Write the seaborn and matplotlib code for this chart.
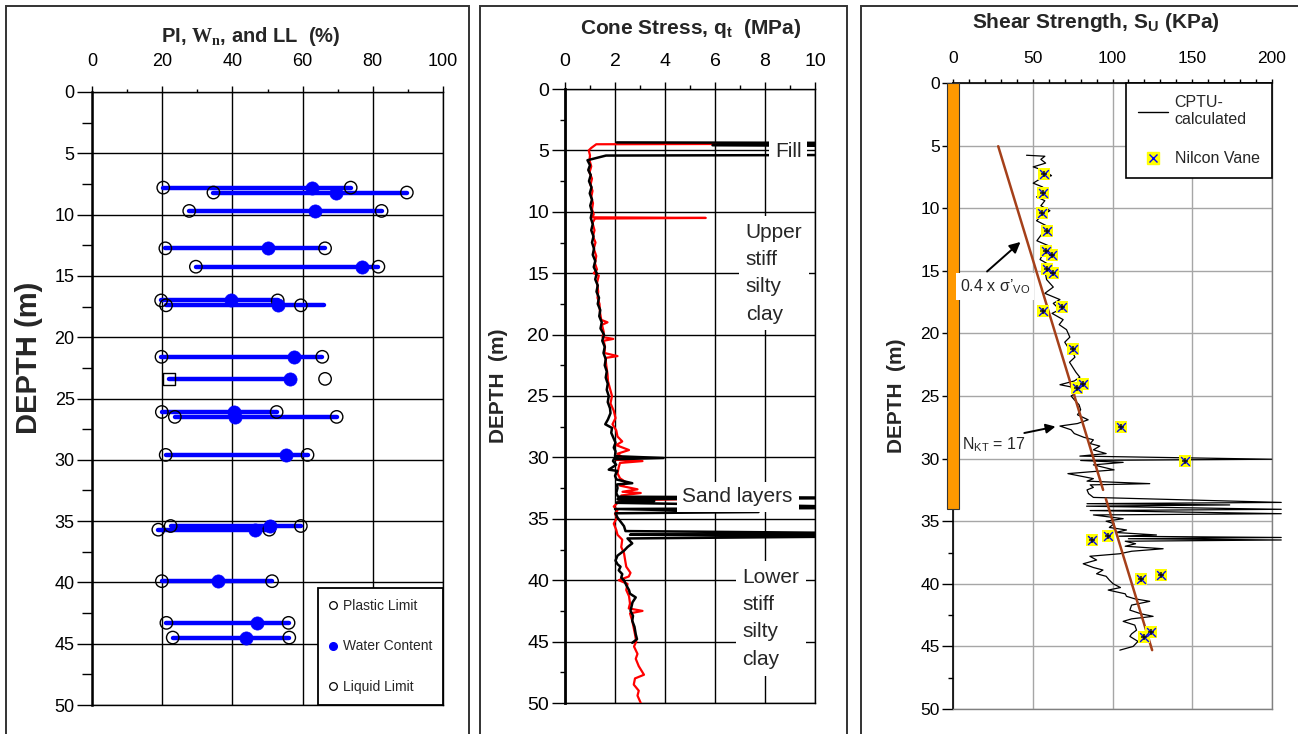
import numpy as np
import pandas as pd
import matplotlib
matplotlib.use("Agg")
import matplotlib.pyplot as plt
import seaborn as sns
from matplotlib.lines import Line2D
from matplotlib.patches import Rectangle
from matplotlib.ticker import MultipleLocator

# ---------------- Panel 1 data: Atterberg limits / water content ----------------
atb_depth = [7.8, 8.2, 9.7, 12.75, 14.25, 17.0, 17.4, 21.6, 23.4, 26.1, 26.5, 29.6,
             35.4, 35.7, 39.9, 43.3, 44.5]
plastic_limit = [20.3, 34.6, 27.7, 20.9, 29.6, 19.7, 21.1, 19.8, np.nan, 19.9, 23.6, 21.0,
                 22.4, 18.9, 19.9, 21.2, 23.0]
water_content = [62.6, 69.4, 63.6, 50.2, 76.8, 39.6, 53.1, 57.6, 56.4, 40.5, 40.7, 55.3,
                 50.7, 46.4, 35.8, 46.9, 43.9]
liquid_limit = [73.7, 89.7, 82.5, 66.4, 81.6, 52.9, 59.5, 65.6, 66.4, 52.6, 69.7, 61.4,
                59.5, 50.5, 51.3, 56.0, 56.2]
range_lo = [20.3, 34.6, 27.7, 20.9, 29.6, 19.7, 21.1, 19.8, 22.0, 19.9, 23.6, 21.0,
            22.4, 18.9, 19.9, 21.2, 23.0]
range_hi = [73.7, 89.7, 82.5, 66.4, 81.6, 52.9, 66.2, 65.6, 56.4, 52.6, 69.7, 61.4,
            59.5, 50.5, 51.3, 56.0, 56.2]
square_pl = [22.0]
square_depth = [23.4]

# ---------------- Panel 2 data: cone stress qt (MPa) ----------------
red_qt = [12.0, 1.25, 1.05, 0.95, 1.0, 0.98, 1.05, 0.98, 1.08, 1.02, 1.1, 1.05, 1.12, 1.08, 1.15,
          1.1, 5.63, 1.2, 1.1, 1.18, 1.12, 1.22, 1.15, 1.25, 1.2, 1.28, 1.15, 1.35, 1.28, 1.33,
          1.3, 1.38, 1.4, 1.45, 1.7, 1.48, 1.55, 1.5, 1.93, 1.55, 1.6, 1.58, 2.1, 1.62, 1.65,
          1.7, 1.72, 1.8, 1.88, 1.82, 1.95, 2.02, 1.9, 2.05, 2.1, 2.29, 2.05, 2.56, 2.1, 2.3,
          2.05, 3.1, 2.2, 2.15, 2.1, 2.2, 2.49, 2.2, 2.9, 2.3, 3.03, 2.25, 2.5, 4.9, 2.2,
          2.05, 1.95, 2.1, 2.0, 2.08, 1.95, 2.05, 2.1, 2.29, 2.25, 2.36, 2.4, 2.45, 2.62, 2.55,
          2.15, 2.5, 2.45, 2.56, 2.6, 2.55, 3.1, 2.6, 2.69, 2.75, 2.8, 2.85, 2.76, 2.9, 2.83,
          2.95, 3.16, 2.8, 2.75, 2.95, 2.9, 3.03]
red_depth = [4.45, 4.5, 4.8, 5.0, 5.4, 5.8, 6.3, 6.8, 7.3, 7.8, 8.3, 8.8, 9.3, 9.8, 10.2,
             10.45, 10.5, 10.55, 10.9, 11.5, 12.0, 12.5, 13.0, 13.6, 14.2, 14.7, 15.0, 15.2, 15.8, 16.5,
             17.0, 17.5, 18.2, 18.8, 19.0, 19.2, 19.8, 20.2, 20.35, 20.5, 21.0, 21.5, 21.75, 21.9, 22.5,
             23.2, 23.8, 24.4, 25.0, 25.6, 26.2, 26.8, 27.3, 27.8, 28.3, 28.7, 29.0, 29.4, 29.7, 30.0,
             30.2, 30.3, 30.45, 30.8, 31.3, 31.7, 32.1, 32.3, 32.6, 32.8, 32.9, 33.1, 33.3, 33.4, 33.5,
             33.8, 34.0, 34.3, 34.6, 34.9, 35.4, 35.9, 36.3, 36.7, 37.3, 37.8, 38.3, 38.9, 39.4, 39.7,
             40.0, 40.3, 40.8, 41.3, 41.9, 42.3, 42.5, 42.7, 43.3, 43.9, 44.4, 45.0, 45.4, 46.0, 46.4,
             47.0, 47.7, 48.0, 48.5, 49.0, 49.4, 50.0]

black_qt = [2.07, 14, 5.9, 14, 14, 1.64, 0.9, 1.0, 0.93, 1.03, 0.96, 1.06, 0.99, 1.08, 1.01,
            1.08, 1.03, 1.11, 1.05, 1.14, 1.08, 1.16, 1.11, 1.21, 1.15, 1.27, 1.21, 1.31, 1.26, 1.36,
            1.31, 1.41, 1.37, 1.47, 1.42, 1.56, 1.49, 1.59, 1.54, 1.63, 1.59, 1.67, 1.63, 1.71, 1.67,
            1.75, 1.71, 1.8, 1.82, 1.72, 1.61, 1.88, 1.85, 2.02, 1.95, 2.02, 2.0, 3.94, 1.95, 1.92,
            2.05, 1.75, 2.09, 2.0, 2.06, 2.69, 2.08, 2.1, 2.05, 2.12, 14, 2.1, 3.57, 2.05, 14,
            2.0, 7.74, 2.02, 2.1, 2.36, 2.42, 14, 2.6, 14, 2.5, 2.69, 2.5, 2.36, 2.1, 2.02,
            2.1, 2.22, 2.15, 2.29, 2.25, 2.36, 2.45, 2.56, 2.6, 2.83, 2.7, 2.62, 2.72, 2.69, 2.78,
            2.83, 2.88, 2.69]
black_depth = [4.35, 4.40, 4.58, 4.66, 5.36, 5.42, 5.8, 6.2, 6.6, 7.0, 7.5, 8.0, 8.5, 9.0, 9.5,
               10.0, 10.5, 11.0, 11.5, 12.0, 12.5, 13.0, 13.5, 14.0, 14.5, 15.0, 15.5, 16.0, 16.5, 17.0,
               17.5, 18.0, 18.5, 19.0, 19.5, 20.0, 20.5, 21.0, 21.5, 22.0, 22.5, 23.0, 23.5, 24.0, 24.5,
               25.0, 25.5, 26.0, 26.4, 26.9, 27.3, 27.6, 28.0, 28.8, 29.2, 29.5, 29.9, 30.05, 30.15, 30.3,
               30.6, 31.0, 31.1, 31.5, 31.8, 32.1, 32.2, 32.5, 32.9, 33.2, 33.3, 33.4, 33.55, 33.7, 34.1,
               34.2, 34.45, 34.55, 34.9, 35.6, 36.0, 36.2, 36.3, 36.4, 36.6, 37.0, 37.3, 37.6, 38.0, 38.4,
               38.7, 38.9, 39.2, 39.5, 39.8, 40.0, 40.4, 40.8, 41.1, 41.4, 41.8, 42.5, 42.9, 43.3, 43.8,
               44.4, 44.8, 45.1]

# ---------------- Panel 3 data: shear strength Su (kPa) ----------------
cptu_su = [46.0, 57.5, 55.0, 58.0, 50.2, 57.0, 61.7, 54.0, 50.2, 56.0, 58.6, 52.3, 57.5, 55.0,
           60.7, 55.5, 52.3, 60.0, 56.0, 52.5, 61.7, 56.5, 54.5, 60.0, 61.7, 58.0, 58.6, 62.8,
           57.5, 67.0, 62.8, 66.9, 62.0, 69.0, 66.5, 71.1, 73.2, 70.0, 72.0, 75.0, 76.4, 73.0,
           75.0, 77.0, 79.5, 76.0, 67.0, 75.0, 78.0, 74.0, 76.0, 79.0, 80.0, 78.0, 84.7, 78.0,
           67.0, 74.0, 76.0, 82.0, 88.0, 86.0, 92.0, 88.0, 96.0, 79.5, 200.0, 80.0, 106.7, 88.0,
           101.0, 72.0, 80.0, 88.0, 84.0, 123.4, 86.0, 88.0, 84.0, 85.0, 88.0, 206.0, 84.0, 173.6,
           83.7, 206.0, 86.0, 206.0, 88.0, 106.7, 96.0, 101.0, 98.0, 108.8, 102.0, 127.6, 104.0,
           206.0, 110.0, 206.0, 108.0, 114.5, 108.0, 131.8, 112.0, 104.6, 85.8, 90.0, 81.6, 88.0,
           94.0, 90.0, 96.0, 98.0, 100.4, 105.0, 97.3, 108.0, 108.8, 114.0, 123.4, 112.0, 110.9,
           118.0, 125.5, 112.0, 106.7, 114.0, 115.1, 112.0, 110.9, 116.0, 113.0, 104.6]
cptu_depth = [5.77, 5.85, 6.1, 6.4, 6.7, 7.0, 7.4, 7.7, 8.0, 8.3, 8.6, 9.1, 9.4, 9.8,
              10.2, 10.6, 11.0, 11.5, 12.0, 12.6, 13.1, 13.6, 14.1, 14.5, 14.8, 15.3, 15.7, 16.3,
              16.8, 17.3, 17.6, 18.1, 18.4, 18.9, 19.3, 19.7, 20.3, 20.7, 21.1, 21.5, 21.9, 22.3,
              22.7, 23.1, 23.5, 23.8, 24.1, 24.3, 24.7, 25.0, 25.3, 25.7, 26.1, 26.5, 26.9, 27.2,
              27.4, 27.7, 28.0, 28.3, 28.5, 28.8, 29.0, 29.3, 29.6, 29.8, 30.05, 30.15, 30.3, 30.5,
              30.9, 31.2, 31.4, 31.6, 31.8, 32.0, 32.1, 32.3, 32.5, 32.8, 33.1, 33.5, 33.6, 33.7,
              33.8, 34.05, 34.15, 34.4, 34.5, 34.8, 35.0, 35.2, 35.5, 35.7, 35.9, 36.1, 36.2,
              36.3, 36.4, 36.5, 36.6, 36.8, 37.0, 37.2, 37.4, 37.6, 37.8, 38.1, 38.4, 38.7,
              38.9, 39.2, 39.4, 39.7, 40.0, 40.3, 40.5, 40.8, 41.0, 41.2, 41.4, 41.7, 42.1,
              42.4, 42.6, 42.8, 43.0, 43.3, 43.7, 44.0, 44.2, 44.6, 45.0, 45.3]

vane_su = [56.9, 56.1, 55.9, 58.6, 58.0, 61.7, 58.6, 62.8, 56.1, 68.4, 75.3, 77.4, 81.2,
           105.6, 145.8, 87.2, 97.3, 118.2, 130.3, 119.7, 124.1]
vane_depth = [7.29, 8.78, 10.37, 11.84, 13.40, 13.70, 14.89, 15.21, 18.19, 17.93, 21.25, 24.39,
              24.07, 27.47, 30.19, 36.54, 36.22, 39.63, 39.28, 44.26, 43.88]

sigma_su = [28.2, 94.1]
sigma_depth = [5.05, 32.5]
nkt_su = [95.8, 124.9]
nkt_depth = [33.2, 45.3]
fill_thickness = 34.0

# ---------------- Style ----------------
sns.set_theme(style="white")
plt.rcParams['font.family'] = ['Liberation Sans', 'DejaVu Sans']
plt.rcParams['mathtext.fontset'] = 'custom'
plt.rcParams['mathtext.rm'] = 'Liberation Sans'
plt.rcParams['mathtext.sf'] = 'Liberation Sans:bold'
plt.rcParams['mathtext.bf'] = 'Liberation Serif:bold'
plt.rcParams['mathtext.it'] = 'Liberation Sans:italic'

W, H = 1298, 734
fig = plt.figure(figsize=(W / 100, H / 100), dpi=100)


def add_axes(l, r, t, b):
    return fig.add_axes([l / W, 1 - b / H, (r - l) / W, (b - t) / H])


def style(ax, xmax, xmaj, xminor, gridc, fs, ylen, ylenm, xlen, xlenm, xpad, ypad):
    ax.set_xlim(0, xmax)
    ax.set_ylim(50, 0)
    ax.xaxis.set_major_locator(MultipleLocator(xmaj))
    ax.xaxis.set_minor_locator(MultipleLocator(xminor))
    ax.yaxis.set_major_locator(MultipleLocator(5))
    ax.yaxis.set_minor_locator(MultipleLocator(2.5))
    ax.xaxis.set_ticks_position('top')
    ax.xaxis.set_label_position('top')
    ax.tick_params(axis='x', which='both', top=True, bottom=False, labeltop=True,
                   labelbottom=False, direction='out', color='black', width=1)
    ax.tick_params(axis='x', which='major', length=xlen, pad=xpad, labelsize=fs, labelcolor='black')
    ax.tick_params(axis='x', which='minor', length=xlenm)
    ax.tick_params(axis='y', which='both', left=True, right=False, direction='out',
                   color='black', width=1)
    ax.tick_params(axis='y', which='major', length=ylen, pad=ypad, labelsize=fs, labelcolor='black')
    ax.tick_params(axis='y', which='minor', length=ylenm)
    ax.grid(True, which='major', color=gridc, lw=1)
    ax.set_axisbelow(True)
    ax.set_xlabel('')
    ax.set_ylabel('')
    ax.set_facecolor('white')


# frames around the three panels
for (l, r) in [(6, 469), (480, 847), (861, 1303)]:
    fig.add_artist(Rectangle((l / W, -0.05), (r - l) / W, 1.05 - 6 / H, transform=fig.transFigure,
                             fill=False, ec='#333333', lw=1.4))

# ---------------- Panel 1 ----------------
ax1 = add_axes(92, 443, 92, 705)
seg = pd.DataFrame({
    'x': range_lo + range_hi,
    'depth': atb_depth + atb_depth,
    'sample': list(range(len(atb_depth))) * 2,
})
sns.lineplot(data=seg, x='x', y='depth', units='sample', estimator=None, sort=False,
             color='#0000FF', lw=3.2, ax=ax1, zorder=3)
sns.scatterplot(x=plastic_limit, y=atb_depth, marker='o', s=80, facecolor='none',
                edgecolor='black', linewidth=1.0, ax=ax1, zorder=4)
sns.scatterplot(x=square_pl, y=square_depth, marker='s', s=70, facecolor='none',
                edgecolor='black', linewidth=1.0, ax=ax1, zorder=4)
sns.scatterplot(x=liquid_limit, y=atb_depth, marker='o', s=80, facecolor='none',
                edgecolor='black', linewidth=1.0, ax=ax1, zorder=4)
sns.scatterplot(x=water_content, y=atb_depth, marker='o', s=90, color='#0000FF',
                edgecolor='#0000FF', linewidth=0.5, ax=ax1, zorder=5)
style(ax1, 100, 20, 10, 'black', 13, 11, 7, 4.5, 2.5, 11, 1.5)
for sp in ax1.spines.values():
    sp.set_color('black')
    sp.set_linewidth(1)
ax1.spines['left'].set_linewidth(1.8)

h_pl = Line2D([], [], ls='', marker='o', ms=5.5, mfc='white', mec='black', mew=0.9)
h_wc = Line2D([], [], ls='', marker='o', ms=5.5, mfc='#0000FF', mec='#0000FF')
h_ll = Line2D([], [], ls='', marker='o', ms=5.5, mfc='white', mec='black', mew=0.9)
leg1 = ax1.legend([h_pl, h_wc, h_ll], ['Plastic Limit', 'Water Content', 'Liquid Limit'],
                  loc='lower right', bbox_to_anchor=(1, 0), borderaxespad=0, fontsize=10,
                  labelspacing=1.9, handlelength=0.7, handletextpad=0.3, borderpad=0.8,
                  fancybox=False, edgecolor='black', framealpha=1)
leg1.get_frame().set_linewidth(1.3)
leg1.set_zorder(10)

fig.text(251 / W, 1 - 37 / H, r'PI, $\mathbf{W_n}$, and LL  (%)', ha='center', va='center',
         fontsize=14.5, fontweight='bold')
fig.text(29 / W, 1 - 358 / H, 'DEPTH (m)', rotation=90, ha='center', va='center',
         fontsize=21, fontweight='bold')

# ---------------- Panel 2 ----------------
ax2 = add_axes(565, 815, 89, 703)
sns.lineplot(x=red_qt, y=red_depth, orient='y', sort=False, estimator=None,
             color='#FF0000', lw=1.6, ax=ax2, zorder=3)
sns.lineplot(x=black_qt, y=black_depth, orient='y', sort=False, estimator=None,
             color='black', lw=1.8, ax=ax2, zorder=4)
style(ax2, 10, 2, 1, 'black', 14, 9.5, 3.6, 5, 3, 8.5, 2)
for sp in ax2.spines.values():
    sp.set_color('black')
    sp.set_linewidth(1)
ax2.spines['left'].set_linewidth(2)

box = dict(fc='white', ec='none', pad=4)
ax2.text(8.4, 5.1, 'Fill', fontsize=15, ha='left', va='center', bbox=box, zorder=6)
ax2.text(7.23, 10.9, 'Upper\nstiff\nsilty\nclay', fontsize=15, ha='left', va='top',
         linespacing=1.55, bbox=dict(fc='white', ec='none', pad=5), zorder=6)
ax2.text(4.7, 33.2, 'Sand layers', fontsize=15, ha='left', va='center', bbox=box, zorder=6)
ax2.text(7.1, 39.0, 'Lower\nstiff\nsilty\nclay', fontsize=15, ha='left', va='top',
         linespacing=1.55, bbox=dict(fc='white', ec='none', pad=5), zorder=6)

fig.text(691 / W, 1 - 29 / H, r'Cone Stress, q$_\mathsf{t}$  (MPa)', ha='center', va='center',
         fontsize=15, fontweight='bold')
fig.text(498 / W, 1 - 386 / H, 'DEPTH  (m)', rotation=90, ha='center', va='center',
         fontsize=15, fontweight='bold')

# ---------------- Panel 3 ----------------
ax3 = add_axes(953.3, 1271.7, 83, 709)
ax3.bar([0], [fill_thickness], width=7.6, bottom=0, color='#FF9900', edgecolor='#333333',
        linewidth=0.8, clip_on=False, zorder=4)
sns.lineplot(x=cptu_su, y=cptu_depth, orient='y', sort=False, estimator=None,
             color='black', lw=0.9, ax=ax3, zorder=3, clip_on=False)
sns.lineplot(x=sigma_su, y=sigma_depth, orient='y', sort=False, estimator=None,
             color='#A5401A', lw=1.8, ax=ax3, zorder=4)
sns.lineplot(x=nkt_su, y=nkt_depth, orient='y', sort=False, estimator=None,
             color='#A5401A', lw=1.8, ax=ax3, zorder=4)
sns.scatterplot(x=vane_su, y=vane_depth, marker='s', s=75, color='#FFFF00', edgecolor='#FFFF00',
                linewidth=0, ax=ax3, zorder=5)
sns.scatterplot(x=vane_su, y=vane_depth, marker='x', s=40, color='#0000FF', linewidth=1.0,
                ax=ax3, zorder=6)
sns.scatterplot(x=vane_su, y=vane_depth, marker='+', s=22, color='#101010', linewidth=1.1,
                ax=ax3, zorder=7)
style(ax3, 200, 50, 10, '#A6A6A6', 12.5, 7.7, 3.6, 3, 3, 9, 2)
for side in ['top', 'left']:
    ax3.spines[side].set_color('black')
    ax3.spines[side].set_linewidth(1.2)
for side in ['right', 'bottom']:
    ax3.spines[side].set_color('#808080')
    ax3.spines[side].set_linewidth(1)

ax3.text(4.2, 16.25, '0.4 x σ’$_\\mathrm{VO}$', fontsize=11.5, ha='left', va='center',
         bbox=dict(fc='white', ec='none', pad=3), zorder=6)
ax3.annotate('', xy=(43.5, 12.55), xytext=(19.9, 15.2),
             arrowprops=dict(arrowstyle='-|>', color='black', lw=1.4, mutation_scale=16), zorder=6)
ax3.text(5.5, 28.9, 'N$_\\mathrm{KT}$ = 17', fontsize=11.5, ha='left', va='center', zorder=6)
ax3.annotate('', xy=(65.9, 27.4), xytext=(42.9, 28.0),
             arrowprops=dict(arrowstyle='-|>', color='black', lw=1.4, mutation_scale=14), zorder=6)

h_cptu = Line2D([], [], color='black', lw=1)
h_vane = (Line2D([], [], ls='', marker='s', ms=8.5, mfc='#FFFF00', mec='#FFFF00'),
          Line2D([], [], ls='', marker='x', ms=6, mec='#0000FF', mew=1.0))
leg3 = ax3.legend([h_cptu, h_vane], ['CPTU-\ncalculated', 'Nilcon Vane'], loc='upper right',
                  bbox_to_anchor=(1, 1), borderaxespad=0, fontsize=11.5, handlelength=1.9,
                  handletextpad=0.4, labelspacing=1.5, borderpad=0.75, fancybox=False,
                  edgecolor='black', framealpha=1)
leg3.get_frame().set_linewidth(1.2)
leg3.set_zorder(10)

fig.text(1096 / W, 1 - 23 / H, r'Shear Strength, S$_\mathsf{U}$ (KPa)', ha='center',
         va='center', fontsize=15, fontweight='bold')
fig.text(896 / W, 1 - 396 / H, 'DEPTH  (m)', rotation=90, ha='center', va='center',
         fontsize=15, fontweight='bold')

fig.savefig('out.png', dpi=100, facecolor='white')
